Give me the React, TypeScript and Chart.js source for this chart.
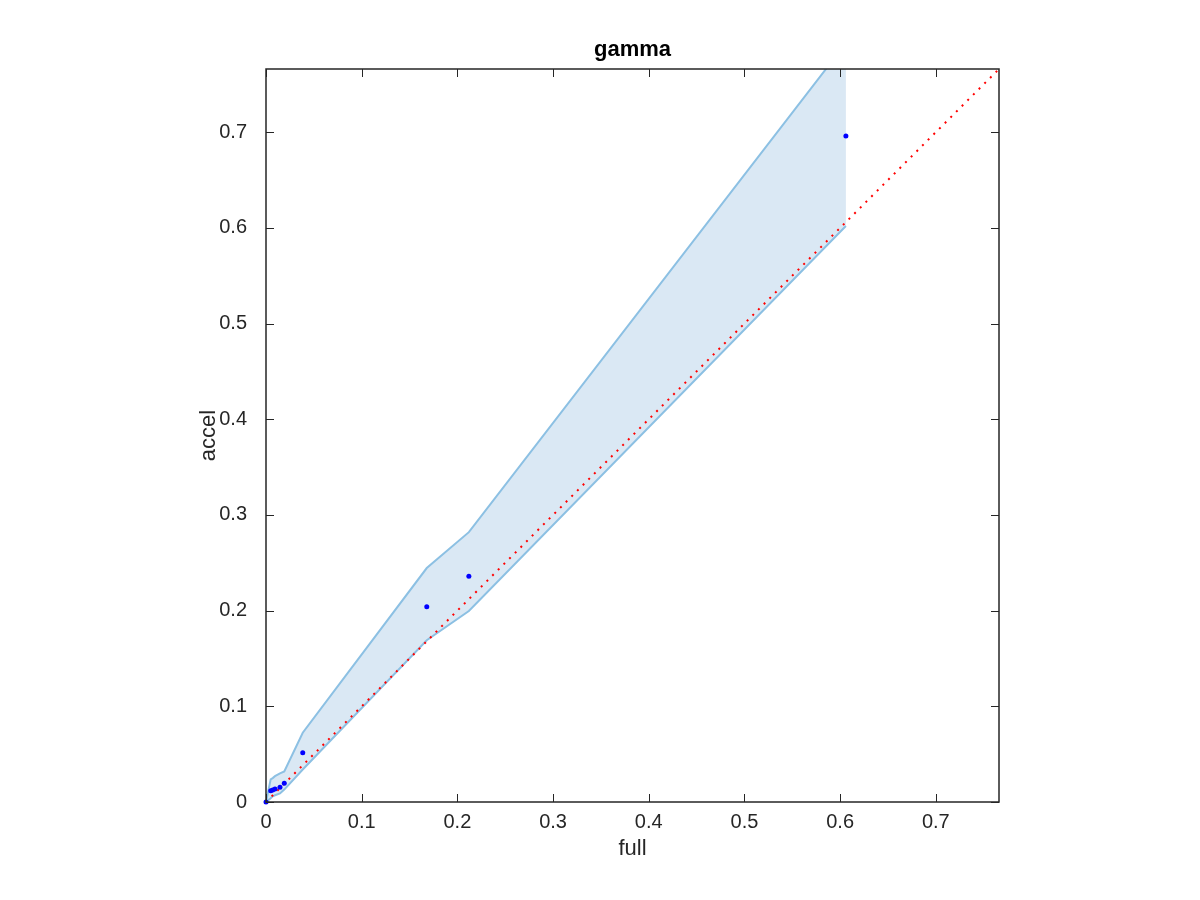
import React, { useEffect, useRef } from "react";
import { Chart, registerables } from "chart.js";

Chart.register(...registerables);

const FULL = [0, 0.0049, 0.007, 0.0094, 0.0146, 0.0191, 0.0384, 0.168, 0.212, 0.606];
const ACCEL = [0, 0.0118, 0.0125, 0.0136, 0.0154, 0.0195, 0.0515, 0.204, 0.236, 0.696];
const UPPER = [0, 0.0237, 0.025, 0.027, 0.03, 0.032, 0.0724, 0.2445, 0.282, 0.793];
const LOWER = [0, 0.004, 0.006, 0.007, 0.009, 0.013, 0.034, 0.169, 0.1996, 0.602];
const DIAG = [0, 0.766];
const TICKS = [0, 0.1, 0.2, 0.3, 0.4, 0.5, 0.6, 0.7];
const AXIS_MAX = 0.766;
const TITLE = "gamma";
const X_LABEL = "full";
const Y_LABEL = "accel";

const FONT = "'Liberation Sans', Arial, Helvetica, sans-serif";
const AXIS_COLOR = "#262626";

const boxPlugin = {
  id: "matlabBox",
  afterDraw(chart: any) {
    const { ctx, chartArea: a, scales } = chart;
    const L = 8;
    ctx.save();
    ctx.strokeStyle = AXIS_COLOR;
    ctx.lineWidth = 1;
    ctx.beginPath();
    for (const v of TICKS) {
      const px = Math.round(scales.x.getPixelForValue(v)) + 0.5;
      ctx.moveTo(px, a.bottom);
      ctx.lineTo(px, a.bottom - L);
      ctx.moveTo(px, a.top);
      ctx.lineTo(px, a.top + L);
      const py = Math.round(scales.y.getPixelForValue(v)) + 0.5;
      ctx.moveTo(a.left, py);
      ctx.lineTo(a.left + L, py);
      ctx.moveTo(a.right, py);
      ctx.lineTo(a.right - L, py);
    }
    ctx.stroke();
    ctx.lineWidth = 1.5;
    ctx.strokeRect(a.left, a.top, a.right - a.left, a.bottom - a.top);
    ctx.restore();
  },
};

const fmt = (v: number) => (v === 0 ? "0" : String(Math.round(v * 10) / 10));

export default function App() {
  const ref = useRef<HTMLCanvasElement>(null);
  useEffect(() => {
    if (!ref.current) return;
    const pts = (xs: number[], ys: number[]) => xs.map((x, i) => ({ x, y: ys[i] }));
    const chart = new Chart(ref.current, {
      type: "scatter",
      data: {
        datasets: [
          {
            label: "upper",
            data: pts(FULL, UPPER),
            showLine: true,
            borderColor: "rgb(140,192,227)",
            borderWidth: 2,
            backgroundColor: "rgb(218,232,244)",
            pointRadius: 0,
            fill: "+1",
            order: 3,
          },
          {
            label: "lower",
            data: pts(FULL, LOWER),
            showLine: true,
            borderColor: "rgb(140,192,227)",
            borderWidth: 2,
            pointRadius: 0,
            fill: false,
            order: 2,
          },
          {
            label: "diag",
            data: pts(DIAG, DIAG),
            showLine: true,
            borderColor: "#ff0000",
            borderWidth: 2,
            borderDash: [2, 6],
            pointRadius: 0,
            fill: false,
            order: 1,
          },
          {
            label: "points",
            data: pts(FULL, ACCEL),
            showLine: false,
            backgroundColor: "#0000ff",
            borderColor: "#0000ff",
            borderWidth: 0,
            pointRadius: 2.5,
            clip: false as any,
            order: 0,
          },
        ],
      },
      options: {
        responsive: false,
        animation: false,
        layout: { padding: { left: 0, right: 201, top: 0, bottom: 0 } },
        plugins: {
          legend: { display: false },
          tooltip: { enabled: false },
          title: {
            display: true,
            text: TITLE,
            fullSize: false,
            color: "#000000",
            font: { family: FONT, size: 22, weight: "bold", lineHeight: 1.2 },
            padding: { top: 36.8, bottom: 5.8 },
          },
        },
        scales: {
          x: {
            type: "linear",
            min: 0,
            max: AXIS_MAX,
            grid: { display: false, drawTicks: false },
            border: { display: false },
            afterBuildTicks: (s: any) => {
              s.ticks = TICKS.map((v) => ({ value: v }));
            },
            afterFit: (s: any) => {
              s.height = 98;
            },
            ticks: {
              color: AXIS_COLOR,
              font: { family: FONT, size: 20 },
              padding: 8,
              maxRotation: 0,
              autoSkip: false,
              callback: (v: any) => fmt(Number(v)),
            },
            title: {
              display: true,
              text: X_LABEL,
              color: AXIS_COLOR,
              font: { family: FONT, size: 22, lineHeight: 1.2 },
              padding: { top: 4, bottom: 38 },
            },
          },
          y: {
            type: "linear",
            min: 0,
            max: AXIS_MAX,
            grid: { display: false, drawTicks: false },
            border: { display: false },
            afterBuildTicks: (s: any) => {
              s.ticks = TICKS.map((v) => ({ value: v }));
            },
            afterFit: (s: any) => {
              s.width = 266;
            },
            ticks: {
              color: AXIS_COLOR,
              font: { family: FONT, size: 20 },
              padding: 19,
              autoSkip: false,
              callback: (v: any) => fmt(Number(v)),
            },
            title: {
              display: true,
              text: Y_LABEL,
              color: AXIS_COLOR,
              font: { family: FONT, size: 22, lineHeight: 1.2 },
              padding: { top: 196, bottom: 4 },
            },
          },
        },
      },
      plugins: [boxPlugin],
    });
    return () => chart.destroy();
  }, []);
  return (
    <div style={{ position: "absolute", left: 0, top: 0, width: 1200, height: 900, background: "#ffffff" }}>
      <canvas ref={ref} width={1200} height={900} style={{ width: 1200, height: 900 }} />
    </div>
  );
}
